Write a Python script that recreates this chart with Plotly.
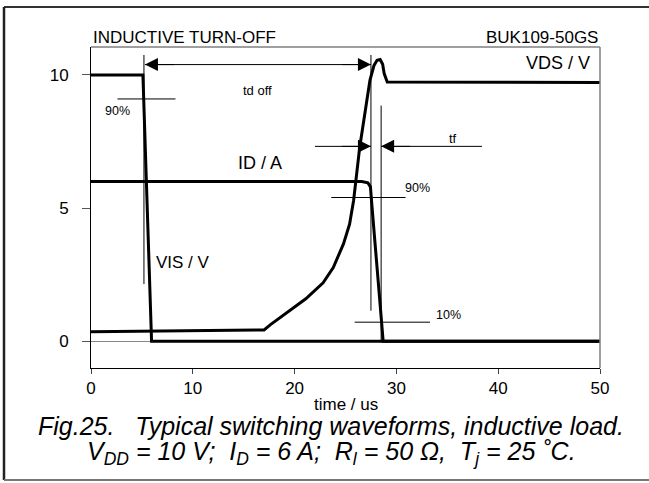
import plotly.graph_objects as go

# ---------------- data ----------------
vis_t = [0, 5.1, 5.95, 50]
vis_v = [10, 10, 0, 0]

id_t = [0, 26.6, 27.2, 27.45, 27.55, 28.7, 50]
id_a = [6, 6, 5.95, 5.8, 5.3, 0, 0]

vds_t = [0, 10, 17.0, 17.6, 18.4, 19.5, 21.1, 22.8, 23.8, 24.8, 25.4, 25.8, 26.0, 26.4, 27.0,
         27.4, 27.8, 28.1, 28.4, 28.65, 28.8, 29.1, 50]
vds_v = [0.36, 0.40, 0.43, 0.62, 0.85, 1.15, 1.6, 2.2, 2.77, 3.66, 4.4, 5.3, 6.0, 7.3, 8.8,
         9.8, 10.36, 10.55, 10.58, 10.4, 10.05, 9.74, 9.72]

x_ticks = [0, 10, 20, 30, 40, 50]
y_ticks = [0, 5, 10]

# guide lines (x0, y0, x1, y1) in data units
guide_lines = [
    (2.6, 9.1, 8.3, 9.1),       # 90% of VIS
    (5.2, 10.75, 5.2, 2.15),    # td off start marker
    (27.5, 10.75, 27.5, 1.15),  # td off end / tf start marker
    (28.5, 8.85, 28.5, 0.0),    # tf end marker
    (23.6, 5.4, 30.9, 5.4),     # 90% of ID
    (25.9, 0.72, 33.3, 0.72),   # 10% of ID
    (5.3, 10.39, 27.5, 10.39),  # td off arrow shaft
    (22.0, 7.32, 27.5, 7.32),   # tf left arrow shaft
    (28.5, 7.32, 38.4, 7.32),   # tf right arrow shaft
]
# arrow heads: (tip x, tip y, direction +1 = pointing right, -1 = pointing left)
arrow_heads = [
    (27.5, 10.39, 1),
    (5.3, 10.39, -1),
    (27.5, 7.32, 1),
    (28.5, 7.32, -1),
]

W, H = 649, 483
L, R, T, B = 91, 49, 47, 115

FONT = "Liberation Sans, Arial, Helvetica, sans-serif"

fig = go.Figure()
for xs, ys in [(vis_t, vis_v), (id_t, id_a), (vds_t, vds_v)]:
    fig.add_trace(go.Scatter(x=xs, y=ys, mode="lines",
                             line=dict(color="black", width=3),
                             hoverinfo="skip", showlegend=False))

shapes = []
for x0, y0, x1, y1 in guide_lines:
    shapes.append(dict(type="line", xref="x", yref="y", x0=x0, y0=y0, x1=x1, y1=y1,
                       line=dict(color="black", width=1)))

# gray top / right plot borders
shapes.append(dict(type="line", xref="paper", yref="paper", x0=0, y0=1, x1=1, y1=1,
                   line=dict(color="#7f7f7f", width=1.5)))
shapes.append(dict(type="line", xref="paper", yref="paper", x0=1, y0=0, x1=1, y1=1,
                   line=dict(color="#7f7f7f", width=1.5)))

# outer frame
pw, ph = W - L - R, H - T - B
def px(x):
    return (x - L) / pw
def py(y):
    return (H - B - y) / ph
shapes.append(dict(type="line", xref="paper", yref="paper", x0=px(4), y0=py(7), x1=px(660), y1=py(7),
                   line=dict(color="#333333", width=2)))
shapes.append(dict(type="line", xref="paper", yref="paper", x0=px(4), y0=py(7), x1=px(4), y1=py(480),
                   line=dict(color="#222222", width=2.5)))
shapes.append(dict(type="line", xref="paper", yref="paper", x0=px(4), y0=py(480), x1=px(660), y1=py(480),
                   line=dict(color="#777777", width=2)))

ann = []
def txt(x, y, s, size, xanchor="center", xref="x", yref="y", italic=False):
    ann.append(dict(x=x, y=y, xref=xref, yref=yref, text=s, showarrow=False,
                    xanchor=xanchor, yanchor="middle",
                    font=dict(family=FONT, size=size, color="black",
                              style="italic" if italic else "normal")))

txt(0, py(37), "INDUCTIVE TURN-OFF", 17, xanchor="left", xref="paper", yref="paper")
txt(1, py(37), "BUK109-50GS", 17, xanchor="right", xref="paper", yref="paper")
txt(49.2, 10.45, "VDS / V", 18, xanchor="right")
txt(16.4, 9.4, "td off", 13)
txt(2.6, 8.65, "90%", 12.5)
txt(16.6, 6.7, "ID / A", 18)
txt(32.1, 5.75, "90%", 12.5)
txt(35.6, 7.6, "tf", 13)
txt(35.1, 0.98, "10%", 12.5)
txt(9.0, 2.97, "VIS / V", 17)
txt(0.5, py(405), "time / us", 17, xref="paper", yref="paper")
txt(px(331), py(426), "Fig.25.   Typical switching waveforms, inductive load.", 25,
    xref="paper", yref="paper", italic=True)
txt(px(331), py(453), "V<sub>DD</sub> = 10 V;  I<sub>D</sub> = 6 A;  R<sub>l</sub> = 50 Ω,  "
    "T<sub>j</sub> = 25 ˚C.", 25, xref="paper", yref="paper", italic=True)

# arrow heads
for xt, yt, d in arrow_heads:
    ann.append(dict(x=xt, y=yt, ax=xt - d * 3.0, ay=yt, xref="x", yref="y",
                    axref="x", ayref="y", text="", showarrow=True, arrowhead=2,
                    arrowsize=2.6, arrowwidth=1, arrowcolor="black"))

fig.update_layout(
    width=W, height=H,
    margin=dict(l=L, r=R, t=T, b=B, pad=0),
    paper_bgcolor="white", plot_bgcolor="white",
    shapes=shapes, annotations=ann,
    font=dict(family=FONT, size=16, color="black"),
    xaxis=dict(range=[0, 50], tickvals=x_ticks, ticks="outside", ticklen=5,
               tickcolor="#444", showgrid=False, zeroline=False,
               showline=True, linecolor="black", linewidth=1,
               tickfont=dict(family=FONT, size=17, color="black")),
    yaxis=dict(range=[-1.0, 11.05], tickvals=y_ticks, ticks="outside", ticklen=8,
               tickcolor="#555", showgrid=False, zeroline=True, zerolinecolor="#888",
               zerolinewidth=1, showline=True, linecolor="black", linewidth=1,
               ticklabelstandoff=10,
               tickfont=dict(family=FONT, size=17, color="black")),
)

fig.write_html("out.html", config={"displayModeBar": False},
               post_script="document.body.style.margin='0px';")
